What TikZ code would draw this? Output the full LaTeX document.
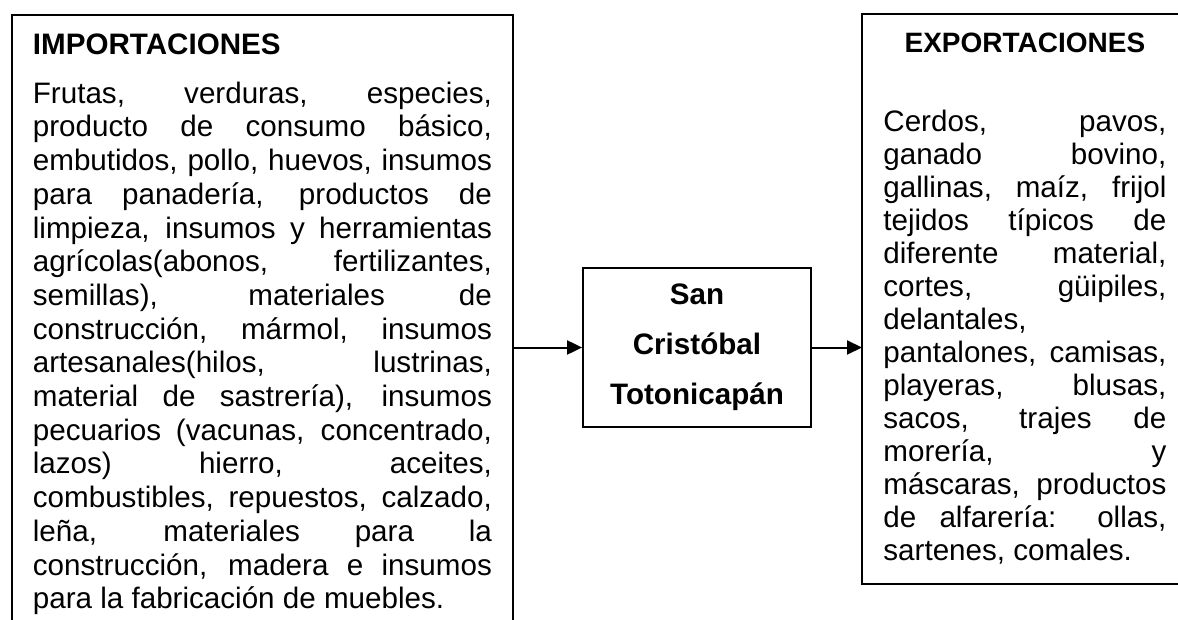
\documentclass[tikz,border=0pt]{standalone}
\usepackage{fontspec}
\setmainfont{Liberation Sans}
\usepackage{tikz}
\usetikzlibrary{arrows.meta}
\tolerance=10000
\hbadness=10000
\hyphenpenalty=10000

\begin{document}
\begin{tikzpicture}[x=0.5pt,y=-0.5pt,
    boxline/.style={line width=0.9pt},
    listbox/.style={anchor=north west,inner xsep=10.5pt,inner ysep=9.5pt,align=justify},
    townbox/.style={draw,boxline,minimum width=114pt,minimum height=79.5pt,
      align=center,font=\fontsize{14.8}{25}\selectfont\bfseries},
    flow/.style={line width=1pt,-{Triangle[length=7.5pt,width=7pt]}}]
    \useasboundingbox (0,0) rectangle (1178,620);
    \node[listbox,draw,boxline,text width=229.5pt,font=\fontsize{14.8}{16.85}\selectfont] (importbox) at (11,14)
    {{\bfseries IMPORTACIONES}\par\vspace{7.5pt}
      Frutas, verduras, especies,\linebreak
      producto de consumo básico,\linebreak
      embutidos, pollo, huevos, insumos\linebreak
      para panadería, productos de\linebreak
      limpieza, insumos y herramientas\linebreak
      agrícolas(abonos, fertilizantes,\linebreak
      semillas), materiales de\linebreak
      construcción, mármol, insumos\linebreak
      artesanales(hilos, lustrinas,\linebreak
      material de sastrería), insumos\linebreak
      pecuarios (vacunas, concentrado,\linebreak
      lazos) hierro, aceites,\linebreak
      combustibles, repuestos, calzado,\linebreak
      leña, materiales para la\linebreak
      construcción, madera e insumos\linebreak
      para la fabricación de muebles.};
    \node[townbox] (town) at (697,347.5) {San\\Cristóbal\\Totonicapán};
    \node[listbox,text width=141.5pt,font=\fontsize{14.8}{16.5}\selectfont] (exportbox) at (862,14)
    {{\centering\fontsize{14}{16.5}\selectfont\bfseries EXPORTACIONES\par}\vspace{23pt}
      Cerdos, pavos,\linebreak
      ganado bovino,\linebreak
      gallinas, maíz, frijol\linebreak
      tejidos típicos de\linebreak
      diferente material,\linebreak
      cortes, güipiles,\linebreak
      delantales,\newline
      pantalones, camisas,\linebreak
      playeras, blusas,\linebreak
      sacos, trajes de\linebreak
      morería, y\linebreak
      máscaras, productos\linebreak
      de alfarería: ollas,\linebreak
      sartenes, comales.};
    % the right side of this box runs off the page
    \draw[boxline] ([xshift=20pt]exportbox.north east) -- (exportbox.north west)
      -- (exportbox.south west) -- ([xshift=20pt]exportbox.south east);
    \draw[flow] (importbox.east |- town.west) -- (town.west);
    \draw[flow] (town.east) -- (town.east -| exportbox.west);
\end{tikzpicture}
\end{document}
